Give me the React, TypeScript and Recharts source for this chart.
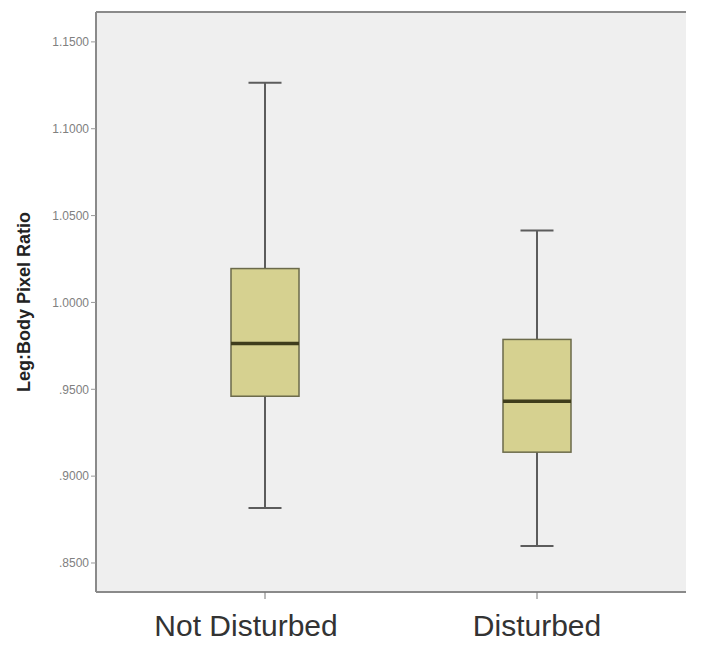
import React from 'react';
import { ComposedChart, Bar, XAxis, YAxis, CartesianGrid, ReferenceLine } from 'recharts';

const categories = ['Not Disturbed', 'Disturbed'];
const whiskerLow = [0.8816, 0.8598];
const q1 = [0.946, 0.9138];
const median = [0.9764, 0.9431];
const q3 = [1.0195, 0.9787];
const whiskerHigh = [1.1264, 1.0414];
const yTicks = [0.85, 0.9, 0.95, 1.0, 1.05, 1.1, 1.15];
const yDomain: [number, number] = [0.8333, 1.1672];
const labelShift = [-19, 0];

const data = categories.map((c, i) => ({
  name: c,
  range: [whiskerLow[i], whiskerHigh[i]],
  min: whiskerLow[i],
  q1: q1[i],
  median: median[i],
  q3: q3[i],
  max: whiskerHigh[i],
}));

const BoxShape = (props: any) => {
  const { x, y, width, height, payload } = props;
  const { min, q1: a, median: m, q3: b, max } = payload;
  const py = (v: number) => y + (height * (max - v)) / (max - min);
  const cx = x + width / 2;
  const capW = 33;
  return (
    <g>
      <line x1={cx} x2={cx} y1={py(max)} y2={py(min)} stroke="#5c5c5c" strokeWidth={2} />
      <line x1={cx - capW / 2} x2={cx + capW / 2} y1={py(max)} y2={py(max)} stroke="#5c5c5c" strokeWidth={2} />
      <line x1={cx - capW / 2} x2={cx + capW / 2} y1={py(min)} y2={py(min)} stroke="#5c5c5c" strokeWidth={2} />
      <rect x={x} y={py(b)} width={width} height={py(a) - py(b)} fill="#d6d190" stroke="#6b6a4a" strokeWidth={1.5} />
      <line x1={x} x2={x + width} y1={py(m)} y2={py(m)} stroke="#3f3d1c" strokeWidth={3.5} />
    </g>
  );
};

const fmt = (v: number) => {
  const s = v.toFixed(4);
  return s.startsWith('0') ? s.slice(1) : s;
};

const font = 'Liberation Sans, Arial, sans-serif';

const XTick = (props: any) => {
  const { x, y, payload, index } = props;
  return (
    <text
      x={x + (labelShift[index] || 0)}
      y={y}
      dy={35}
      textAnchor="middle"
      fontSize={30}
      fill="#333"
      fontFamily={font}
    >
      {payload.value}
    </text>
  );
};

export default function App() {
  return (
    <div style={{ position: 'absolute', left: 0, top: 0, background: '#fff' }}>
      <ComposedChart
        width={710}
        height={646}
        data={data}
        margin={{ top: 12, right: 24, bottom: 0, left: 0 }}
      >
        <CartesianGrid horizontal={false} vertical={false} fill="#efefef" fillOpacity={1} />
        <XAxis
          dataKey="name"
          type="category"
          height={54}
          padding={{ left: 33, right: 13 }}
          axisLine={{ stroke: '#8a8a8a', strokeWidth: 2 }}
          tickLine={{ stroke: '#777' }}
          tickSize={7}
          tick={<XTick />}
        />
        <YAxis
          type="number"
          domain={yDomain}
          ticks={yTicks}
          tickFormatter={fmt}
          width={96}
          allowDataOverflow
          axisLine={{ stroke: '#8a8a8a', strokeWidth: 2 }}
          tickLine={{ stroke: '#999' }}
          tickSize={5}
          tick={{ fontSize: 12, fill: '#808080', fontFamily: font }}
          label={{
            value: 'Leg:Body Pixel Ratio',
            angle: -90,
            position: 'insideLeft',
            offset: 24,
            style: { fontSize: 18, fontWeight: 'bold', fill: '#222', fontFamily: font, textAnchor: 'middle' },
          }}
        />
        <YAxis
          yAxisId="right"
          orientation="right"
          type="number"
          domain={yDomain}
          width={0}
          tick={false}
          tickLine={false}
          axisLine={{ stroke: '#8a8a8a', strokeWidth: 2 }}
        />
        <ReferenceLine
          y={yDomain[1]}
          stroke="#8a8a8a"
          strokeWidth={2}
          ifOverflow="visible"
        />
        <Bar dataKey="range" barSize={68} shape={BoxShape} isAnimationActive={false} />
      </ComposedChart>
    </div>
  );
}
